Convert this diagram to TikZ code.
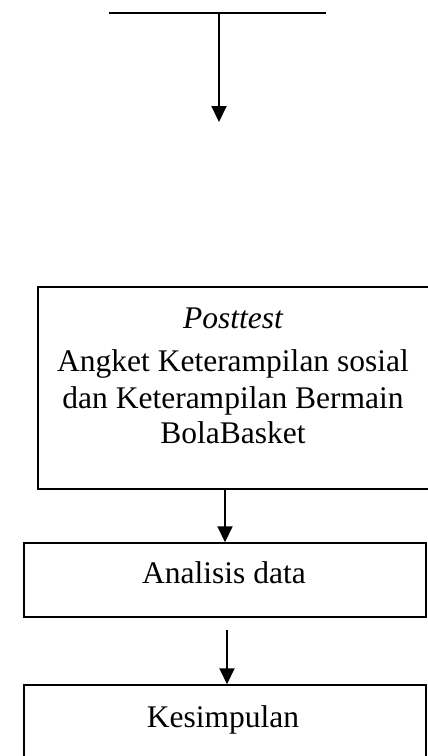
\documentclass[tikz,border=0pt]{standalone}
\usepackage{fontspec}
\setmainfont{Liberation Serif}
\usetikzlibrary{arrows.meta}
\begin{document}
\begin{tikzpicture}[x=1pt,y=-1pt,
  box/.style={draw, line width=1.5pt, rectangle, inner sep=0pt},
  txt/.style={font=\fontsize{31.5}{36}\selectfont, anchor=base, inner sep=0pt},
  arr/.style={line width=2pt, -{Triangle[length=16pt,width=15pt]}},
  rulebar/.style={line width=1.8pt}]
\clip (0,0) rectangle (428,756);

% branch from the previous stage
\coordinate (tl) at (109,12.7);
\coordinate (tr) at (326,12.7);
\coordinate (tm) at (219,12.7);
\coordinate (tend) at (219,122);
\draw[rulebar] (tl) -- (tr);
\draw[arr] (tm) -- (tend);

% posttest stage
\node[box, minimum width=392pt, minimum height=202pt] (post) at (234,388) {};
\node[txt] (ptitle) at (233,328) {\itshape Posttest};
\node[txt] (pl1) at (233,371) {Angket Keterampilan sosial};
\node[txt] (pl2) at (233,408) {dan Keterampilan Bermain};
\node[txt] (pl3) at (233,443) {BolaBasket};

% data analysis
\node[box, minimum width=402pt, minimum height=74pt] (ana) at (225,580) {};
\node[txt] (atxt) at (224,583) {Analisis data};

% conclusion
\node[box, minimum width=402pt, minimum height=72pt] (kes) at (225,721) {};
\node[txt] (ktxt) at (223,727) {Kesimpulan};

% connectors
\coordinate (a1) at (225,0);
\draw[arr] (post.south -| a1) -- (ana.north -| a1);
\coordinate (k0) at (227,630);
\draw[arr] (k0) -- (kes.north -| k0);
\end{tikzpicture}
\end{document}
